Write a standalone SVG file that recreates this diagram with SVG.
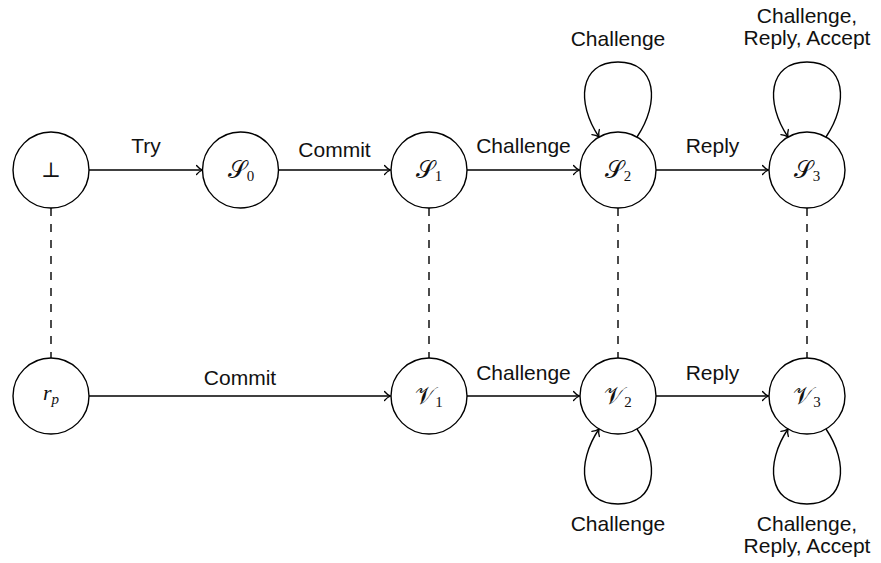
<svg xmlns="http://www.w3.org/2000/svg" width="881" height="563" viewBox="0 0 881 563">
<style>
.node circle{fill:#fff;stroke:#000;stroke-width:1.4}
.edge{fill:none;stroke:#000;stroke-width:1.4}
.dash{fill:none;stroke:#000;stroke-width:1.4;stroke-dasharray:8 8}
.lbl{font-family:"Liberation Sans",Arial,sans-serif;font-size:21px;fill:#111;text-anchor:middle}
.math{font-family:"Liberation Serif","DejaVu Serif",serif;font-size:24px;fill:#111;text-anchor:middle}
.it{font-style:italic}
.sub{font-size:15px}
</style>
<defs>
<marker id="arr" viewBox="-7 -6 8 12" refX="0" refY="0" markerWidth="8" markerHeight="12" orient="auto" markerUnits="userSpaceOnUse">
<path d="M-6,-4.5 C-4,-2 -1.5,-0.6 0,0 C-1.5,0.6 -4,2 -6,4.5" fill="none" stroke="#000" stroke-width="1.3" stroke-linecap="round"/>
</marker>
</defs>
<g id="connectors">
<line class="dash" x1="51" y1="208" x2="51" y2="358"/>
<line class="dash" x1="429" y1="208" x2="429" y2="358"/>
<line class="dash" x1="618" y1="208" x2="618" y2="358"/>
<line class="dash" x1="807" y1="208" x2="807" y2="358"/>
<line class="edge" x1="89" y1="170" x2="202.5" y2="170" marker-end="url(#arr)"/>
<line class="edge" x1="278.5" y1="170" x2="390.5" y2="170" marker-end="url(#arr)"/>
<line class="edge" x1="467" y1="170" x2="579.5" y2="170" marker-end="url(#arr)"/>
<line class="edge" x1="656" y1="170" x2="768.5" y2="170" marker-end="url(#arr)"/>
<line class="edge" x1="89" y1="396" x2="390.5" y2="396" marker-end="url(#arr)"/>
<line class="edge" x1="467" y1="396" x2="579.5" y2="396" marker-end="url(#arr)"/>
<line class="edge" x1="656" y1="396" x2="768.5" y2="396" marker-end="url(#arr)"/>
<path class="edge" d="M637,137 C660,103 657,62 618,62 C579,62 576,103 599,137" marker-end="url(#arr)"/>
<path class="edge" d="M826,137 C849,103 846,62 807,62 C768,62 765,103 788,137" marker-end="url(#arr)"/>
<path class="edge" d="M637,429 C660,463 657,504 618,504 C579,504 576,463 599,429" marker-end="url(#arr)"/>
<path class="edge" d="M826,429 C849,463 846,504 807,504 C768,504 765,463 788,429" marker-end="url(#arr)"/>
<text class="lbl" x="146" y="153">Try</text>
<text class="lbl" x="334.5" y="157">Commit</text>
<text class="lbl" x="523.5" y="153">Challenge</text>
<text class="lbl" x="712.5" y="153">Reply</text>
<text class="lbl" x="240" y="385">Commit</text>
<text class="lbl" x="523.5" y="380">Challenge</text>
<text class="lbl" x="712.5" y="380">Reply</text>
<text class="lbl" x="618" y="46">Challenge</text>
<text class="lbl" x="807" y="23">Challenge,</text>
<text class="lbl" x="807" y="45">Reply, Accept</text>
<text class="lbl" x="618" y="531">Challenge</text>
<text class="lbl" x="807" y="531">Challenge,</text>
<text class="lbl" x="807" y="553">Reply, Accept</text>
</g>
<g id="n-bot" class="node"><circle cx="51" cy="170" r="38"/><text class="math" x="51" y="177" style="font-size:21px">⊥</text></g>
<g id="n-S0" class="node"><circle cx="240.5" cy="170" r="38"/><text class="math" x="241" y="178">𝒮<tspan class="sub" dy="3">0</tspan></text></g>
<g id="n-S1" class="node"><circle cx="429" cy="170" r="38"/><text class="math" x="429" y="178">𝒮<tspan class="sub" dy="3">1</tspan></text></g>
<g id="n-S2" class="node"><circle cx="618" cy="170" r="38"/><text class="math" x="618" y="178">𝒮<tspan class="sub" dy="3">2</tspan></text></g>
<g id="n-S3" class="node"><circle cx="807" cy="170" r="38"/><text class="math" x="807" y="178">𝒮<tspan class="sub" dy="3">3</tspan></text></g>
<g id="n-rp" class="node"><circle cx="51" cy="396" r="38"/><text class="math it" x="51" y="400" style="font-size:22px">r<tspan class="sub" dy="4">p</tspan></text></g>
<g id="n-V1" class="node"><circle cx="429" cy="396" r="38"/><text class="math" x="429" y="404">𝒱<tspan class="sub" dy="3">1</tspan></text></g>
<g id="n-V2" class="node"><circle cx="618" cy="396" r="38"/><text class="math" x="618" y="404">𝒱<tspan class="sub" dy="3">2</tspan></text></g>
<g id="n-V3" class="node"><circle cx="807" cy="396" r="38"/><text class="math" x="807" y="404">𝒱<tspan class="sub" dy="3">3</tspan></text></g>
</svg>
